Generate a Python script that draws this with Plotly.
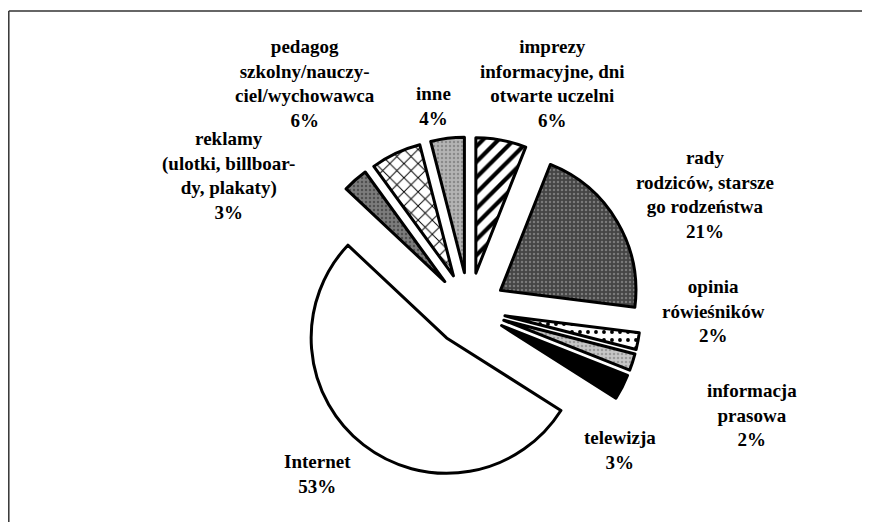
import plotly.graph_objects as go

# the page body keeps an 8px margin, so the figure starts at (8, 8) in the window
OFF = 8
W, H = 862, 514

# categories, clockwise from 12 o'clock
categories = [
    "imprezy informacyjne, dni otwarte uczelni",
    "rady rodziców, starszego rodzeństwa",
    "opinia rówieśników",
    "informacja prasowa",
    "telewizja",
    "Internet",
    "reklamy (ulotki, billboardy, plakaty)",
    "pedagog szkolny/nauczyciel/wychowawca",
    "inne",
]
values = [6, 21, 2, 2, 3, 53, 3, 6, 4]

# label text as broken in the original
label_lines = [
    ["imprezy", "informacyjne, dni", "otwarte uczelni"],
    ["rady", "rodziców, starsze", "go rodzeństwa"],
    ["opinia", "rówieśników"],
    ["informacja", "prasowa"],
    ["telewizja"],
    ["Internet"],
    ["reklamy", "(ulotki, billboar-", "dy, plakaty)"],
    ["pedagog", "szkolny/nauczy-", "ciel/wychowawca"],
    ["inne"],
]

# label centres in window pixels (x from left, y from top)
label_pos = [
    (552, 83), (705, 194), (713, 311), (752, 415), (620, 450),
    (317, 474), (228, 176), (305, 83), (433, 106),
]

fill = ["white", "#454545", "white", "#c6c6c6", "black",
        "white", "#7c7c7c", "white", "#b4b4b4"]
shapes = ["/", ".", ".", ".", "", "", ".", "x", "."]
fg = ["black", "#7a7a7a", "black", "#9a9a9a", "black",
      "black", "#505050", "black", "#8a8a8a"]
psize = [11, 4, 8, 4, 8, 8, 4, 10, 4]
solid = [0.38, 0.3, 0.18, 0.3, 0.3, 0.3, 0.3, 0.18, 0.3]


def px(x):
    return (x - OFF) / W


def py(y):
    return 1 - (y - OFF) / H


# pie centre and half size (window pixels)
cx, cy, half = 469, 309, 172

fig = go.Figure()
fig.add_trace(
    go.Pie(
        labels=categories,
        values=values,
        sort=False,
        direction="clockwise",
        rotation=0,
        pull=[0.27] * len(values),
        textinfo="none",
        hoverinfo="label+percent",
        showlegend=False,
        marker=dict(
            colors=fill,
            line=dict(color="black", width=3),
            pattern=dict(shape=shapes, fgcolor=fg, bgcolor=fill,
                         size=psize, solidity=solid),
        ),
        domain=dict(x=[px(cx - half), px(cx + half)],
                    y=[py(cy + half), py(cy - half)]),
    )
)

for lines, v, (lx, ly) in zip(label_lines, values, label_pos):
    fig.add_annotation(
        text="<br>".join(lines + [f"{v}%"]),
        x=px(lx), y=py(ly), xref="paper", yref="paper",
        xanchor="center", yanchor="middle", showarrow=False, align="center",
        font=dict(family="Liberation Serif", size=19, color="black", weight="bold"),
    )

# frame: top and left edges only
fig.add_shape(type="line", xref="paper", yref="paper",
              x0=0.8 / W, y0=py(11), x1=1, y1=py(11),
              line=dict(color="#333333", width=1.5))
fig.add_shape(type="line", xref="paper", yref="paper",
              x0=0.8 / W, y0=py(11), x1=0.8 / W, y1=0,
              line=dict(color="#333333", width=1.5))

fig.update_layout(
    width=W,
    height=H,
    margin=dict(l=0, r=0, t=0, b=0),
    paper_bgcolor="white",
    plot_bgcolor="white",
)

# keep the page from growing scrollbars
fig.write_html("out.html", post_script="document.documentElement.style.overflow='hidden';")
